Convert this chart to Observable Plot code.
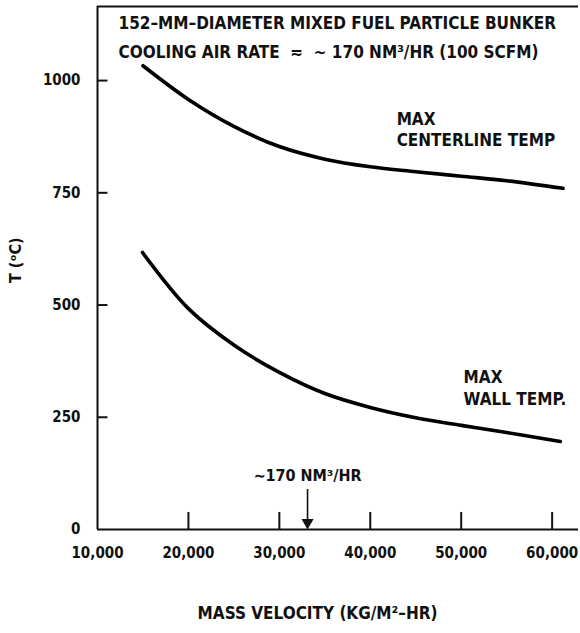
<!DOCTYPE html>
<html>
<head>
<meta charset="utf-8">
<script src="https://cdn.jsdelivr.net/npm/d3@7"></script>
<script src="https://cdn.jsdelivr.net/npm/@observablehq/plot@0.6"></script>
<style>
  html, body { margin: 0; padding: 0; background: #fff; }
  #chart svg { display: block; }
</style>
</head>
<body>
<div id="chart"></div>
<script>
// ---- data ----
const centerlineX = [15000, 20000, 25000, 30000, 35000, 40000, 45000, 50000, 55000, 61200];
const centerlineT = [1033, 958, 898, 853, 825, 808, 797, 787, 777, 760];
const wallX = [14950, 20000, 25000, 30000, 35000, 40000, 45000, 50000, 55000, 60900];
const wallT = [617, 492, 411, 350, 303, 272, 249, 232, 216, 196];
const xTicks = [10000, 20000, 30000, 40000, 50000, 60000];
const yTicks = [0, 250, 500, 750, 1000];
const arrowX = 33100;
const titleLines = [
  "152\u2013MM\u2013DIAMETER MIXED FUEL PARTICLE BUNKER",
  "COOLING AIR RATE  \u2242  \u223C 170 NM\u00B3/HR (100 SCFM)"
];
const curveLabels = [
  {x: 42900, y: 893, text: "MAX\nCENTERLINE TEMP"},
  {x: 50260, y: 317, text: "MAX\nWALL TEMP."}
];
const arrowLabel = "\u223C170 NM\u00B3/HR";
const xTitle = "MASS VELOCITY (KG/M\u00B2\u2013HR)";
const yTitle = "T (\u1D52C)";

const centerline = centerlineX.map((x, i) => ({x, t: centerlineT[i]}));
const wall = wallX.map((x, i) => ({x, t: wallT[i]}));

const xDomain = [10000, 62900];
const yDomain = [0, 1165];
const FONT = "'Liberation Sans Narrow', 'DejaVu Sans Condensed', 'Liberation Sans', sans-serif";
const INK = "#111";

const chart = Plot.plot({
  width: 580,
  height: 633,
  marginLeft: 97,
  marginRight: 2,
  marginTop: 6,
  marginBottom: 104,
  style: {fontFamily: FONT, fontSize: "17px", fontWeight: "bold", color: INK, background: "#fff"},
  x: {domain: xDomain, axis: null},
  y: {domain: yDomain, axis: null},
  marks: [
    // frame: left, bottom, top
    Plot.ruleX([xDomain[0]], {stroke: INK, strokeWidth: 2}),
    Plot.ruleY([yDomain[0], yDomain[1]], {stroke: INK, strokeWidth: 2}),
    // inward y ticks
    Plot.ruleY(yTicks.filter(d => d > 0), {x1: xDomain[0], x2: xDomain[0] + 1150, stroke: INK, strokeWidth: 2}),
    // upward x ticks
    Plot.ruleX(xTicks.filter(d => d > xDomain[0]), {y1: 0, y2: 38, stroke: INK, strokeWidth: 2}),
    // tick labels
    Plot.text(yTicks, {x: xDomain[0], y: d => d, text: d => String(d), textAnchor: "end", dx: -17, fontSize: 15, fill: INK}),
    Plot.text(xTicks, {x: d => d, y: 0, text: d => d3.format(",")(d), dy: 24, fontSize: 15, fill: INK}),
    // curves
    Plot.line(centerline, {x: "x", y: "t", curve: "catmull-rom", stroke: "#000", strokeWidth: 3.6}),
    Plot.line(wall, {x: "x", y: "t", curve: "catmull-rom", stroke: "#000", strokeWidth: 3.6}),
    // arrow marker: shaft + filled narrow head
    Plot.ruleX([arrowX], {y1: 89, y2: 10, stroke: INK, strokeWidth: 1.6}),
    Plot.dot([arrowX], {x: d => d, y: 0, symbol: "triangle", r: 4.5, rotate: 180, dy: -7, fill: INK, stroke: null}),
    Plot.text([arrowLabel], {x: arrowX, y: 120, text: d => d, fontSize: 16, fill: INK}),
    // title lines
    Plot.text(titleLines, {x: 12310, y: (d, i) => 1127 - i * 65, text: d => d, textAnchor: "start", fill: INK}),
    // curve labels
    Plot.text(curveLabels, {x: "x", y: "y", text: "text", textAnchor: "start", lineHeight: 1.25, fill: INK}),
    // axis titles
    Plot.text([xTitle], {x: 34200, frameAnchor: "bottom", dy: 89, text: d => d, fill: INK}),
    Plot.text([yTitle], {frameAnchor: "left", dx: -82, dy: 15, rotate: -90, text: d => d, fontSize: 16, fill: INK})
  ]
});
document.getElementById("chart").appendChild(chart);
</script>
</body>
</html>
